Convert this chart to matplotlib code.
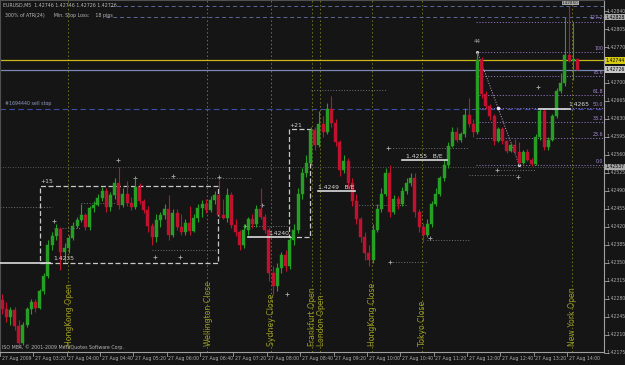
import numpy as np
import matplotlib
matplotlib.use("Agg")
import matplotlib.pyplot as plt
from matplotlib.patches import Rectangle
from matplotlib.transforms import blended_transform_factory

BASE = 1.42000
PIP = 0.0001

# OHLC in pips above 1.42000 (EURUSD M5, 27 Aug 2009, from 02:40)
open_pips = [27.8, 26.0, 24.5, 25.8, 22.8, 19.5, 23.0, 26.0, 27.5, 26.3,
             29.5, 32.5, 38.5, 40.2, 41.6, 37.2, 38.0, 39.9, 42.2, 43.3,
             44.3, 42.0, 45.7, 46.3, 47.6, 49.0, 45.8, 48.2, 50.6, 46.2,
             48.5, 46.6, 45.8, 49.7, 47.0, 45.3, 42.2, 40.0, 43.3, 44.3,
             45.5, 40.5, 44.8, 42.0, 41.0, 42.8, 41.2, 43.8, 45.7, 46.5,
             45.3, 47.2, 48.2, 44.3, 43.8, 48.2, 42.4, 41.0, 38.5, 41.5,
             43.5, 42.6, 45.5, 44.0, 41.5, 33.0, 30.5, 34.0, 36.5, 34.5,
             39.5, 41.5, 48.5, 52.5, 54.5, 60.8, 58.0, 62.0, 60.5, 65.0,
             62.2, 58.5, 53.0, 54.8, 50.5, 47.0, 43.5, 40.0, 37.0, 35.5,
             41.5, 45.5, 48.5, 52.5, 45.0, 47.5, 46.5, 49.0, 50.5, 51.5,
             45.0, 42.0, 40.5, 42.5, 46.5, 48.5, 51.5, 54.0, 57.8, 60.5,
             59.0, 60.0, 63.8, 62.0, 60.5, 74.5, 67.8, 65.5, 63.5, 58.7,
             61.0, 58.7, 56.8, 58.0, 56.5, 54.5, 56.5, 55.0, 54.3, 59.5,
             64.5, 57.5, 59.0, 63.5, 68.4, 70.0, 75.4, 74.2, 74.6]
high_pips = [29.0, 27.5, 26.5, 26.5, 24.0, 23.5, 26.5, 28.0, 28.0, 30.0,
             33.0, 39.5, 41.0, 42.5, 42.0, 38.8, 40.5, 43.0, 44.0, 46.5,
             44.8, 46.0, 47.0, 48.5, 49.8, 49.5, 48.8, 51.5, 53.7, 49.5,
             51.0, 47.8, 51.5, 50.5, 47.5, 46.0, 42.8, 44.5, 45.0, 46.5,
             48.2, 45.5, 45.5, 44.5, 43.5, 46.0, 44.5, 46.5, 47.2, 47.5,
             48.0, 49.0, 51.1, 47.5, 49.5, 48.8, 43.5, 41.5, 42.5, 44.0,
             44.5, 46.2, 49.5, 44.5, 42.0, 34.5, 35.0, 37.2, 37.5, 40.0,
             42.5, 49.5, 53.5, 56.0, 61.5, 61.5, 64.5, 63.5, 66.2, 67.5,
             63.0, 59.0, 56.0, 55.5, 51.5, 48.5, 44.0, 41.0, 38.5, 42.5,
             46.5, 49.5, 53.5, 54.0, 48.2, 48.0, 49.8, 51.5, 52.5, 52.5,
             45.5, 42.8, 43.5, 47.0, 49.5, 52.0, 55.0, 58.5, 61.5, 61.5,
             60.5, 65.2, 67.0, 63.0, 76.0, 75.0, 68.5, 66.0, 64.0, 61.5,
             61.5, 59.0, 58.4, 59.2, 58.5, 57.0, 57.2, 55.5, 60.0, 65.0,
             65.0, 59.5, 64.0, 69.0, 72.0, 82.8, 85.0, 81.8, 74.6]
low_pips = [25.0, 23.5, 23.0, 22.0, 18.5, 19.0, 22.5, 25.0, 25.5, 26.0,
            29.0, 32.0, 37.5, 39.5, 33.6, 35.2, 37.0, 39.5, 41.8, 43.0,
            41.5, 41.5, 45.0, 46.0, 47.0, 45.0, 45.2, 47.5, 45.5, 45.8,
            46.0, 45.3, 45.5, 46.5, 44.8, 41.0, 38.5, 39.0, 42.0, 43.5,
            39.5, 40.0, 41.5, 40.5, 40.5, 40.5, 41.0, 43.0, 44.0, 44.8,
            45.0, 46.5, 43.8, 43.5, 43.0, 41.8, 40.2, 37.5, 38.0, 40.5,
            41.8, 42.0, 43.5, 40.8, 31.5, 28.8, 29.5, 33.0, 33.5, 33.8,
            38.5, 40.8, 47.5, 51.8, 54.0, 57.0, 57.5, 59.5, 60.0, 61.5,
            57.8, 52.0, 52.5, 49.5, 46.0, 42.5, 39.0, 35.5, 34.5, 35.0,
            41.0, 45.0, 48.0, 44.0, 44.5, 45.5, 46.0, 48.5, 50.0, 44.0,
            41.0, 39.0, 40.0, 42.0, 46.0, 48.0, 51.0, 53.5, 57.5, 58.5,
            58.5, 59.5, 61.5, 59.5, 60.0, 67.0, 65.0, 62.8, 58.0, 58.5,
            58.2, 56.3, 56.5, 56.0, 54.1, 54.3, 54.8, 53.8, 54.0, 59.0,
            57.0, 57.0, 58.8, 63.2, 68.0, 69.5, 74.0, 70.6, 72.6]
close_pips = [26.0, 24.5, 25.8, 22.8, 19.5, 23.0, 26.0, 27.5, 26.3, 29.5,
              32.5, 38.5, 40.2, 41.6, 37.2, 38.0, 39.9, 42.2, 43.3, 44.3,
              42.0, 45.7, 46.3, 47.6, 49.0, 45.8, 48.2, 50.6, 46.2, 48.5,
              46.6, 45.8, 49.7, 47.0, 45.3, 42.2, 40.0, 43.3, 44.3, 45.5,
              40.5, 44.8, 42.0, 41.0, 42.8, 41.2, 43.8, 45.7, 46.5, 45.3,
              47.2, 48.2, 44.3, 43.8, 48.2, 42.4, 41.0, 38.5, 41.5, 43.5,
              42.6, 45.5, 44.0, 41.5, 33.0, 30.5, 34.0, 36.5, 34.5, 39.5,
              41.5, 48.5, 52.5, 54.5, 60.8, 58.0, 62.0, 60.5, 65.0, 62.2,
              58.5, 53.0, 54.8, 50.5, 47.0, 43.5, 40.0, 37.0, 35.5, 41.5,
              45.5, 48.5, 52.5, 45.0, 47.5, 46.5, 49.0, 50.5, 51.5, 45.0,
              42.0, 40.5, 42.5, 46.5, 48.5, 51.5, 54.0, 57.8, 60.5, 59.0,
              60.0, 63.8, 62.0, 60.5, 74.5, 67.8, 65.5, 63.5, 58.7, 61.0,
              58.7, 56.8, 58.0, 56.5, 54.5, 56.5, 55.0, 54.3, 59.5, 64.5,
              57.5, 59.0, 63.5, 68.4, 70.0, 75.4, 74.2, 74.6, 72.6]

time_labels = ["27 Aug 2009", "27 Aug 03:20", "27 Aug 04:00", "27 Aug 04:40",
               "27 Aug 05:20", "27 Aug 06:00", "27 Aug 06:40", "27 Aug 07:20",
               "27 Aug 08:00", "27 Aug 08:40", "27 Aug 09:20", "27 Aug 10:00",
               "27 Aug 10:40", "27 Aug 11:20", "27 Aug 12:00", "27 Aug 12:40",
               "27 Aug 13:20", "27 Aug 14:00"]
time_label_bars = [0, 8, 16, 24, 32, 40, 48, 56, 64, 72, 80, 88, 96, 104, 112, 120, 128, 136]

price_ticks = [1.42840, 1.42805, 1.42770, 1.42700, 1.42665, 1.42630, 1.42595,
               1.42560, 1.42525, 1.42490, 1.42455, 1.42420, 1.42385, 1.42350,
               1.42315, 1.42280, 1.42245, 1.42210, 1.42175]

session_names = ["HongKong Open", "Wellington Close", "Sydney Close", "Frankfurt Open",
                 "London Open", "HongKong Close", "Tokyo Close", "New York Open"]
session_bars = [15.9, 49.2, 64.5, 74.3, 76.3, 88.7, 100.7, 136.6]

fib_levels = [0.0, 23.6, 38.2, 50.0, 61.8, 78.6, 100.0, 127.2]
fib_labels = ["0.0", "23.6", "38.2", "50.0", "61.8", "78.6", "100", "127.2"]
fib_low, fib_high = 1.42541, 1.42760
fib_low_bar, fib_high_bar = 124, 114

# trade levels
entry_prices = [1.4235, 1.4240, 1.4249, 1.4255, 1.4265]
entry_labels = ["1.4235", "1.4240", "1.4249   B/E", "1.4255   B/E", "1.4265"]
entry_start = [-0.5, 59.0, 75.8, 96.0, 128.8]
entry_end = [11.5, 69.0, 84.7, 106.7, 136.2]
entry_text_bar = [12.2, 63.8, 75.8, 96.8, 135.8]

# target boxes
box_x0 = [9.1, 68.8]
box_x1 = [51.8, 73.9]
box_lo = [1.4235, 1.4240]
box_hi = [1.4250, 1.4261]
box_labels = ["+15", "+21"]

# dotted ATR-stop steps (start bar, end bar, pips)
trail_x0 = [-0.5, 12.5, 19.0, 36.0, 38.0, 59.0, 74.0, 85.0, 93.0, 93.0, 102.0, 112.0, 119.0]
trail_x1 = [12.0, 19.0, 27.0, 52.0, 60.0, 69.0, 92.0, 97.0, 112.0, 102.0, 112.0, 124.0, 128.0]
trail_pips = [45.8, 41.9, 46.7, 37.5, 51.5, 42.2, 68.6, 46.3, 57.3, 35.2, 39.5, 52.1, 53.1]

cross_bars = [12.5, 27.8, 32.0, 41.0, 52.0, 36.7, 42.7, 58.3, 62.4, 68.3, 92.6, 93.0,
              102.6, 118.7, 123.7, 128.5]
cross_pips = [43.2, 55.0, 51.5, 51.9, 51.7, 36.2, 36.2, 42.2, 46.3, 28.9, 57.3, 35.2,
              39.9, 53.1, 51.7, 69.2]

BG = "#151515"
BULL = "#25a025"
BEAR = "#c0122e"

def P(p):
    return BASE + np.asarray(p) * PIP

o = P(open_pips); h = P(high_pips); l = P(low_pips); c = P(close_pips)

fig = plt.figure(figsize=(6.25, 3.65), dpi=100, facecolor=BG)
ax = fig.add_axes([0.0, 13 / 365, 604 / 625, 352 / 365])
ax.set_facecolor(BG)
XMAX = 144.36
ax.set_xlim(-0.48, XMAX)
ax.set_ylim(1.421769, 1.428614)
ax.set_xticks([]); ax.set_yticks([])
for s in ["top", "left"]:
    ax.spines[s].set_color("#505050"); ax.spines[s].set_linewidth(0.8)
for s in ["right", "bottom"]:
    ax.spines[s].set_color("#a0a0a0"); ax.spines[s].set_linewidth(0.8)

FS = dict(family="DejaVu Sans")

# session lines
for name, b in zip(session_names, session_bars):
    ax.axvline(b, color="#76761a", lw=0.7, ls=(0, (1.5, 2.5)), zorder=1)
    ax.text(b + 0.2, P(18.8), name, rotation=90, ha="center", va="bottom",
            color="#9a9a24", fontsize=5.6, zorder=6, **FS)

# horizontal full-width lines
ax.plot([26, XMAX], [1.42850, 1.42850], color="#5a6a9a", lw=0.7, ls=(0, (4, 3)), zorder=1)
ax.plot([25, XMAX], [1.42828, 1.42828], color="#5a6a9a", lw=0.7, ls=(0, (4, 3)), zorder=1)
ax.axhline(1.42744, color="#c8b818", lw=0.9, zorder=2)
ax.axhline(1.42726, color="#7888b0", lw=0.9, zorder=2)
ax.axhline(1.42650, color="#3c4ca8", lw=0.8, ls=(0, (5, 3)), zorder=2)
ax.axhline(1.42537, color="#707070", lw=0.6, ls=(0, (1, 2)), zorder=1)

# dotted ATR steps
for x0, x1, pp in zip(trail_x0, trail_x1, trail_pips):
    ax.plot([x0, x1], [P(pp), P(pp)], color="#707078", lw=0.7, ls=(0, (1, 1.8)), zorder=2)

# fib
fb0 = fib_high_bar - 0.3
fib_end = XMAX - 0.2
for lv, lab in zip(fib_levels, fib_labels):
    y = fib_low + (fib_high - fib_low) * lv / 100.0
    ax.plot([fb0, fib_end], [y, y], color="#8c70b8", lw=0.7, ls=(0, (1.2, 1.8)), zorder=3)
    ax.text(fib_end, y + 0.00002, lab, ha="right", va="bottom", color="#a888d8",
            fontsize=3.4, zorder=6, **FS)
ax.plot([fib_high_bar, fib_low_bar], [fib_high, fib_low], color="#c8a8d0", lw=0.7,
        ls=(0, (1, 1.6)), zorder=3)
ax.plot([(fib_high_bar + fib_low_bar) / 2], [(fib_high + fib_low) / 2], "o",
        color="#f0e0f0", ms=1.6, zorder=4)
ax.plot([fib_high_bar, fib_low_bar], [fib_high, fib_low], "o", color="#e0d0e0", ms=1.2, zorder=4)

# target boxes
for x0, x1, lo, hi, lab in zip(box_x0, box_x1, box_lo, box_hi, box_labels):
    ax.plot([x0, x1, x1, x0, x0], [lo, lo, hi, hi, lo], color="#c8c8c8", lw=0.9,
            ls=(0, (4, 2)), zorder=3)
    ax.text(x0 + 0.1, hi + 0.00003, lab, ha="left", va="bottom", color="#d0d0d0",
            fontsize=4.3, zorder=6, **FS)

# entry lines
for pr, lab, x0, x1, xt in zip(entry_prices, entry_labels, entry_start, entry_end, entry_text_bar):
    ax.plot([x0, x1], [pr, pr], color="#dcdcdc", lw=1.2, zorder=5)
    ax.text(xt, pr + 0.00003, lab, ha="left", va="bottom", color="#d8d8d8",
            fontsize=4.3, zorder=6, **FS)

ax.text(114.0, P(77.5), "44", ha="center", va="bottom", color="#b0b0b0", fontsize=4.0, zorder=6, **FS)

# crosses
ax.plot(cross_bars, P(cross_pips), "+", color="#a8a8a8", ms=3.2, mew=0.6, zorder=4)

# candles
W = 0.72
for i in range(len(o)):
    col = BULL if c[i] >= o[i] else BEAR
    ax.plot([i, i], [l[i], h[i]], color=col, lw=0.8, zorder=4, solid_capstyle="butt")
    lo_b = min(o[i], c[i]); hgt = max(abs(c[i] - o[i]), 0.000012)
    ax.add_patch(Rectangle((i - W / 2, lo_b), W, hgt, facecolor=col, edgecolor=col,
                           lw=0.3, zorder=4))

# texts
ax.text(0.005, 0.993, "EURUSD,M5  1.42746 1.42746 1.42726 1.42726", transform=ax.transAxes,
        ha="left", va="top", color="#b8b8b8", fontsize=3.4, **FS)
ax.text(0.008, 0.962, "300% of ATR(24)      Min. Stop Loss:    18 pips", transform=ax.transAxes,
        ha="left", va="top", color="#b8b8b8", fontsize=3.4, **FS)
ax.text(0.008, 1.42656, "#1694440 sell stop", ha="left", va="bottom", color="#8e9cc0",
        fontsize=3.4, transform=blended_transform_factory(ax.transAxes, ax.transData), **FS)
ax.text(0.004, 0.006, "ISO MB4, \u00a9 2001-2009 MetaQuotes Software Corp.", transform=ax.transAxes,
        ha="left", va="bottom", color="#b8b8b8", fontsize=3.4, zorder=7, **FS)

# price axis
tr = blended_transform_factory(ax.transAxes, ax.transData)
for pt in price_ticks:
    ax.text(1.004, pt, f"{pt:.5f}", transform=tr, ha="left", va="center", color="#b0b0b0",
            fontsize=3.3, clip_on=False, **FS)
    ax.plot([1.0, 1.006], [pt, pt], transform=tr, color="#a0a0a0", lw=0.6, clip_on=False)
boxes = [(1.42744, "#d8cc10", "#000000"), (1.42726, "#c8c8c8", "#000000"),
         (1.42828, "#a8a8a8", "#000000"), (1.42537, "#a8a8a8", "#000000")]
for pv, bg, fg in boxes:
    ax.text(1.003, pv, f"{pv:.5f}", transform=tr, ha="left", va="center", color=fg,
            fontsize=3.3, clip_on=False, zorder=8,
            bbox=dict(boxstyle="square,pad=0.15", fc=bg, ec="none"), **FS)
ax.text(136.3, 0.997, "1.42850", transform=blended_transform_factory(ax.transData, ax.transAxes),
        ha="center", va="top", color="#202020", fontsize=3.0, zorder=8,
        bbox=dict(boxstyle="square,pad=0.1", fc="#a8a8a8", ec="none"), **FS)

# time axis
trx = blended_transform_factory(ax.transData, ax.transAxes)
for b, lab in zip(time_label_bars, time_labels):
    ax.plot([b - 0.5, b - 0.5], [0, -0.012], transform=trx, color="#a0a0a0", lw=0.6, clip_on=False)
    ax.text(b - 0.1, -0.01, lab, transform=trx, ha="left", va="top", color="#b0b0b0",
            fontsize=3.3, clip_on=False, **FS)

fig.savefig("out.png", dpi=100, facecolor=BG)
